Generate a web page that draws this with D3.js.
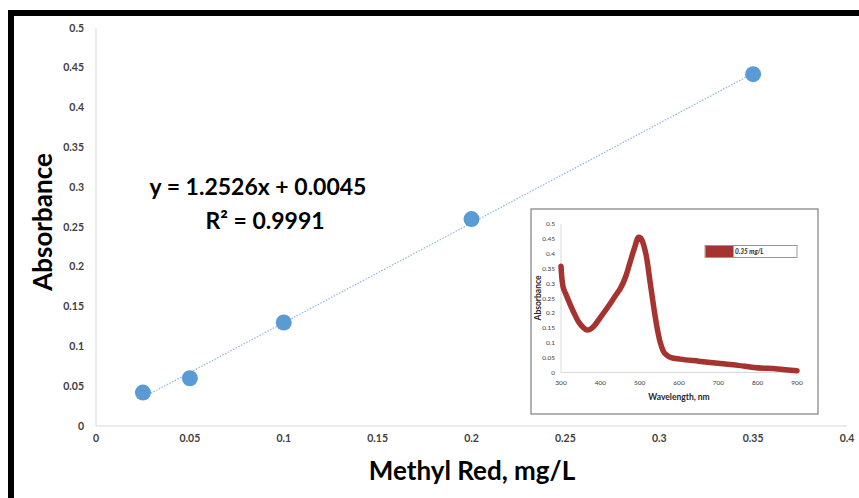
<!DOCTYPE html>
<html><head><meta charset="utf-8">
<script src="https://cdn.jsdelivr.net/npm/d3@7"></script>
<style>
html,body{margin:0;padding:0;background:#fff;}
svg{display:block;}
text{font-family:Lato,"Open Sans",sans-serif;}
</style></head>
<body>
<svg id="chart" width="859" height="498"></svg>
<script>
// Main calibration data
const concentrations = [0.025, 0.05, 0.1, 0.2, 0.35];
const absorbances = [0.042, 0.06, 0.13, 0.26, 0.442];
const xTicks = [0, 0.05, 0.1, 0.15, 0.2, 0.25, 0.3, 0.35, 0.4];
const yTicks = [0, 0.05, 0.1, 0.15, 0.2, 0.25, 0.3, 0.35, 0.4, 0.45, 0.5];
const slope = 1.2526, intercept = 0.0045;
const equationText = "y = 1.2526x + 0.0045";
const r2Text = "R² = 0.9991";

// Inset spectrum data (0.35 mg/L)
const wavelengths = [300, 302, 305, 312, 324, 335, 345, 356, 366, 375, 385, 400, 420, 440, 451, 465, 476, 487, 497, 503, 510, 518, 527, 535, 543, 552, 560, 569, 580, 603, 650, 705, 750, 790, 850, 900];
const spectrum = [0.358, 0.32, 0.29, 0.265, 0.227, 0.195, 0.17, 0.152, 0.143, 0.146, 0.158, 0.185, 0.222, 0.262, 0.283, 0.325, 0.373, 0.42, 0.455, 0.452, 0.43, 0.384, 0.3, 0.227, 0.16, 0.103, 0.072, 0.058, 0.05, 0.045, 0.038, 0.03, 0.024, 0.017, 0.012, 0.006];
const insetXTicks = [300, 400, 500, 600, 700, 800, 900];
const insetYTicks = [0, 0.05, 0.1, 0.15, 0.2, 0.25, 0.3, 0.35, 0.4, 0.45, 0.5];
const legendLabel = "0.35 mg/L";

const svg = d3.select("#chart");

// Frame
svg.append("rect").attr("x", 11).attr("y", 13).attr("width", 870).attr("height", 500)
  .attr("fill", "none").attr("stroke", "#000").attr("stroke-width", 6);

const x = d3.scaleLinear().domain([0, 0.4]).range([96, 847]);
const y = d3.scaleLinear().domain([0, 0.5]).range([426, 28]);

// Axis lines
svg.append("line").attr("x1", x(0)).attr("x2", x(0)).attr("y1", y(0.5)).attr("y2", y(0))
  .attr("stroke", "#d9d9d9").attr("stroke-width", 1);
svg.append("line").attr("x1", x(0)).attr("x2", x(0.4)).attr("y1", y(0)).attr("y2", y(0))
  .attr("stroke", "#d9d9d9").attr("stroke-width", 1);

// Tick labels
svg.append("g").selectAll("text").data(yTicks).join("text")
  .attr("x", 84).attr("y", d => y(d)).attr("dy", "0.35em")
  .attr("text-anchor", "end").attr("font-size", 10.5).attr("font-weight", 700).attr("fill", "#404040")
  .text(d => d3.format("")(d));
svg.append("g").selectAll("text").data(xTicks).join("text")
  .attr("x", d => x(d)).attr("y", 442)
  .attr("text-anchor", "middle").attr("font-size", 10.5).attr("font-weight", 700).attr("fill", "#404040")
  .text(d => d3.format("")(d));

// Axis titles
svg.append("text").attr("x", 472).attr("y", 480).attr("text-anchor", "middle")
  .attr("font-size", 26).attr("font-weight", 700).attr("fill", "#000").text("Methyl Red, mg/L");
svg.append("text").attr("transform", "translate(52,222) rotate(-90)").attr("text-anchor", "middle")
  .attr("font-size", 26).attr("font-weight", 700).attr("fill", "#000").text("Absorbance");

// Trendline
const tx = [concentrations[0], concentrations[concentrations.length - 1]];
svg.append("line")
  .attr("x1", x(tx[0])).attr("y1", y(slope * tx[0] + intercept))
  .attr("x2", x(tx[1])).attr("y2", y(slope * tx[1] + intercept))
  .attr("stroke", "#8db4e2").attr("stroke-width", 1.2).attr("stroke-dasharray", "1.5,1.5");

// Points
svg.append("g").selectAll("circle").data(concentrations).join("circle")
  .attr("cx", d => x(d)).attr("cy", (d, i) => y(absorbances[i])).attr("r", 8)
  .attr("fill", "#5b9bd5");

// Equation
svg.append("text").attr("x", 258).attr("y", 195).attr("text-anchor", "middle")
  .attr("font-size", 23).attr("font-weight", 700).attr("fill", "#000").text(equationText);
svg.append("text").attr("x", 265).attr("y", 229).attr("text-anchor", "middle")
  .attr("font-size", 23).attr("font-weight", 700).attr("fill", "#000").text(r2Text);

// Inset
const inset = svg.append("g");
inset.append("rect").attr("x", 531).attr("y", 209).attr("width", 287).attr("height", 205)
  .attr("fill", "#fff").attr("stroke", "#7f7f7f").attr("stroke-width", 1.2);
const ix = d3.scaleLinear().domain([300, 900]).range([561, 797]);
const iy = d3.scaleLinear().domain([0, 0.5]).range([372.5, 224]);
inset.append("line").attr("x1", ix(300)).attr("x2", ix(300)).attr("y1", iy(0.5)).attr("y2", iy(0))
  .attr("stroke", "#d9d9d9");
inset.append("line").attr("x1", ix(300)).attr("x2", ix(900)).attr("y1", iy(0)).attr("y2", iy(0))
  .attr("stroke", "#d9d9d9");
inset.append("g").selectAll("text").data(insetYTicks).join("text")
  .attr("x", 555).attr("y", d => iy(d)).attr("dy", "0.35em").attr("text-anchor", "end")
  .attr("font-size", 6.5).attr("fill", "#404040").text(d => d3.format("")(d));
inset.append("g").selectAll("text").data(insetXTicks).join("text")
  .attr("x", d => ix(d)).attr("y", 385).attr("text-anchor", "middle")
  .attr("font-size", 6.5).attr("fill", "#404040").text(d => d);
inset.append("text").attr("x", ix(600)).attr("y", 400).attr("text-anchor", "middle")
  .attr("font-size", 8.5).attr("font-weight", 700).attr("fill", "#262626").text("Wavelength, nm");
inset.append("text").attr("transform", "translate(541,298) rotate(-90)").attr("text-anchor", "middle")
  .attr("font-size", 8.5).attr("font-weight", 700).attr("fill", "#262626").text("Absorbance");

const line = d3.line().x((d, i) => ix(wavelengths[i])).y(d => iy(d)).curve(d3.curveMonotoneX);
inset.append("path").datum(spectrum).attr("d", line)
  .attr("fill", "none").attr("stroke", "#a53330").attr("stroke-width", 5.5)
  .attr("stroke-linecap", "round").attr("stroke-linejoin", "round");

// Inset legend
inset.append("rect").attr("x", 705).attr("y", 245.5).attr("width", 92).attr("height", 12)
  .attr("fill", "#fff").attr("stroke", "#7f7f7f").attr("stroke-width", 0.8);
inset.append("rect").attr("x", 705.5).attr("y", 246).attr("width", 28).attr("height", 11)
  .attr("fill", "#a53330");
inset.append("text").attr("x", 735).attr("y", 254).attr("font-size", 6.5).attr("font-weight", 700)
  .attr("font-style", "italic").attr("fill", "#262626").text(legendLabel);
</script>
</body></html>
